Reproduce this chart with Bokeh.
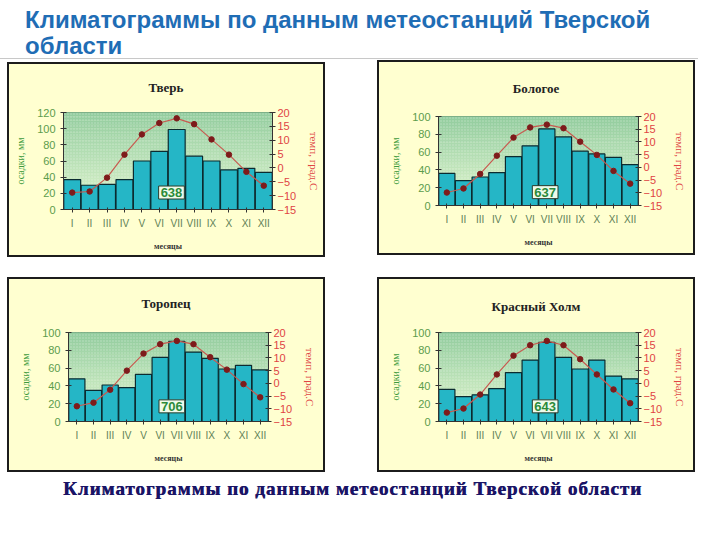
from bokeh.plotting import figure
from bokeh.models import (Range1d, LinearAxis, FactorRange, Label, BoxAnnotation,
                          Div, Spacer, FixedTicker, ColumnDataSource)
from bokeh.layouts import column, row
from bokeh.embed import file_html
from bokeh.resources import INLINE

# ---------------- data ----------------
months = ["I", "II", "III", "IV", "V", "VI", "VII", "VIII", "IX", "X", "XI", "XII"]

station_names = ["Тверь", "Бологое", "Торопец", "Красный Холм"]

tver_precip = [37, 30, 31, 37, 60, 72, 99, 66, 60, 49, 51, 46]
tver_temp = [-8.9, -8.5, -3.5, 4.8, 12.1, 16.2, 17.9, 15.8, 10.3, 4.8, -1.4, -6.4]

bologoe_precip = [36, 28, 32, 37, 55, 67, 86, 77, 61, 58, 54, 46]
bologoe_temp = [-9.9, -8.3, -2.6, 4.6, 11.7, 15.7, 16.8, 15.4, 10.1, 4.9, -1.4, -6.4]

toropets_precip = [48, 35, 41, 38, 53, 72, 90, 78, 71, 59, 63, 58]
toropets_temp = [-9.0, -7.6, -2.5, 5.0, 11.7, 15.4, 16.7, 15.4, 10.3, 5.4, -0.3, -5.5]

kholm_precip = [36, 28, 30, 37, 55, 69, 89, 72, 59, 69, 51, 48]
kholm_temp = [-11.5, -9.9, -4.4, 3.5, 10.9, 15.0, 16.7, 15.0, 9.5, 3.5, -2.4, -7.8]

precip_max = [120, 100, 100, 100]
precip_ticks_step = 20
temp_ticks = [-15, -10, -5, 0, 5, 10, 15, 20]

# ---------------- styles ----------------
PANEL_BG = "#ffffd0"
BAR = "#25b6c6"
BAR_LINE = "#0b2b30"
TEMP_LINE = "#c85a50"
TEMP_DOT = "#7e1b1b"
GREEN_TXT = "#5c9c4c"
RED_TXT = "#e04444"
TOP_COL = (146, 204, 158)
BOT_COL = (226, 246, 208)
W, H = 314, 191   # inner size; a 2px frame makes the panel 318 x 195
TH = 36           # height of the station-name strip


def band_color(f):
    c = [int(round(BOT_COL[k] + (TOP_COL[k] - BOT_COL[k]) * f)) for k in range(3)]
    return "#%02x%02x%02x" % tuple(c)


def make_panel(name, precip, temp, pmax, borders, label_pos, title_pad, top_margin=0):
    bl, br, bt, bb = borders
    src = ColumnDataSource(dict(month=months, precip=precip, temp=temp))
    p = figure(width=W, height=H - TH, x_range=FactorRange(factors=months),
               y_range=Range1d(0, pmax), output_backend="svg", toolbar_location=None,
               title_location=None,
               min_border_left=bl, min_border_right=br, min_border_top=bt,
               min_border_bottom=bb)
    p.extra_y_ranges = {"temp": Range1d(temp_ticks[0], temp_ticks[-1])}
    p.border_fill_color = PANEL_BG
    p.background_fill_color = band_color(0)
    p.outline_line_color = "#6f9f7a"
    p.outline_line_width = 1
    p.xgrid.visible = False
    p.ygrid.visible = False

    # gradient background of plot area
    n = 24
    for i in range(n):
        p.add_layout(BoxAnnotation(bottom=pmax * i / n, top=pmax * (i + 1) / n + 0.3,
                                   fill_color=band_color((i + 0.5) / n), fill_alpha=1,
                                   line_color=None, level="underlay"))
    p.add_layout(BoxAnnotation(fill_alpha=0, line_color=None, hatch_pattern="dot",
                               hatch_color="white", hatch_alpha=0.35, hatch_scale=3,
                               level="underlay"))

    p.vbar(x="month", top="precip", width=0.97, source=src, fill_color=BAR,
           line_color=BAR_LINE, line_width=1.2)
    p.line(x="month", y="temp", source=src, y_range_name="temp",
           line_color=TEMP_LINE, line_width=1.2)
    p.scatter(x="month", y="temp", source=src, y_range_name="temp", marker="circle",
              size=5.5, fill_color=TEMP_DOT, line_color=TEMP_DOT)

    # left axis
    ya = p.yaxis[0]
    ya.ticker = FixedTicker(ticks=list(range(0, pmax + 1, precip_ticks_step)))
    ya.axis_label = "осадки, мм"
    ya.axis_label_text_font = "Liberation Serif"
    ya.axis_label_text_font_size = "10px"
    ya.axis_label_text_font_style = "normal"
    ya.axis_label_text_color = "#3c9a3c"
    ya.axis_label_standoff = 8
    ya.major_label_text_font = "Liberation Sans"
    ya.major_label_text_font_size = "11px"
    ya.major_label_text_color = GREEN_TXT
    ya.major_label_standoff = 5
    ya.major_tick_in = 3
    ya.major_tick_out = 3
    ya.minor_tick_in = 0
    ya.minor_tick_out = 0
    ya.axis_line_color = "#333333"
    ya.major_tick_line_color = "#333333"

    # right axis
    ra = LinearAxis(y_range_name="temp", ticker=FixedTicker(ticks=temp_ticks),
                    axis_label="темп, град.С")
    ra.axis_label_text_font = "Liberation Serif"
    ra.axis_label_text_font_size = "11px"
    ra.axis_label_text_font_style = "normal"
    ra.axis_label_text_color = RED_TXT
    ra.axis_label_standoff = 9
    ra.major_label_text_font = "Liberation Sans"
    ra.major_label_text_font_size = "11px"
    ra.major_label_text_color = RED_TXT
    ra.major_label_standoff = 2
    ra.major_tick_in = 3
    ra.major_tick_out = 3
    ra.minor_tick_in = 0
    ra.minor_tick_out = 0
    ra.axis_line_color = "#333333"
    ra.major_tick_line_color = "#333333"
    p.add_layout(ra, "right")

    # bottom axis
    xa = p.xaxis[0]
    xa.axis_label = "месяцы"
    xa.axis_label_text_font = "Liberation Serif"
    xa.axis_label_text_font_size = "8px"
    xa.axis_label_text_font_style = "bold"
    xa.axis_label_text_color = "#333333"
    xa.axis_label_standoff = 10
    xa.major_label_text_font = "Liberation Sans"
    xa.major_label_text_font_size = "10px"
    xa.major_label_text_color = "#5e7f56"
    xa.major_label_standoff = 5
    xa.major_tick_in = 2
    xa.major_tick_out = 3
    xa.axis_line_color = "#333333"
    xa.major_tick_line_color = "#333333"

    # annual total
    lx, ly = label_pos
    p.add_layout(Label(x=lx, y=ly, text=str(sum(precip)), text_align="center",
                       text_baseline="middle", text_font="Liberation Sans",
                       text_font_size="13px", text_font_style="bold",
                       text_color="#2b8a3a", background_fill_color="#eefbea",
                       border_line_color="#2a3a2a", border_line_width=1, padding=2))

    head = Div(text=('<div style="width:%dpx; text-align:center; padding-top:%dpx;'
                     'font-family:\'Liberation Serif\'; font-weight:bold; font-size:13px;'
                     'line-height:16px; color:#222222;">%s</div>') % (W, title_pad, name),
               width=W, height=TH, margin=0, styles={"background": PANEL_BG})
    return column(head, p, spacing=0, margin=(top_margin, 0, 0, 0),
                  styles={"border": "2px solid #1c1c1c", "background": PANEL_BG})


p1 = make_panel(station_names[0], tver_precip, tver_temp, precip_max[0],
                (54, 43, 48 - TH, 46), (6.2, 21), 16, top_margin=2)
p2 = make_panel(station_names[1], bologoe_precip, bologoe_temp, precip_max[1],
                (59, 55, 54 - TH, 48), (6.4, 15), 19)
p3 = make_panel(station_names[2], toropets_precip, toropets_temp, precip_max[2],
                (59, 55, 53 - TH, 49), (6.2, 17), 17)
p4 = make_panel(station_names[3], kholm_precip, kholm_temp, precip_max[3],
                (59, 55, 53 - TH, 49), (6.4, 17), 20)

title = Div(text=('<div style="padding:7px 0 0 25px; font-family:\'Liberation Sans\';'
                  'font-weight:bold; font-size:24px; line-height:26px; color:#1f6db5;">'
                  'Климатограммы по данным метеостанций Тверской<br>области</div>'),
            width=698, height=59, margin=0,
            styles={"border-bottom": "1px solid #c8c8c8"})

caption = Div(text=('<div style="width:705px; text-align:center; padding-top:3px;'
                    'font-family:\'Liberation Serif\'; font-weight:bold; font-size:19px;'
                    'letter-spacing:1px; color:#1a1466; text-shadow:0.6px 0 0 #1a1466;">'
                    'Климатограммы по данным метеостанций Тверской области</div>'),
              width=705, height=30, margin=0)

layout = column(
    title,
    Spacer(height=1),
    row(Spacer(width=7), p1, Spacer(width=52), p2),
    Spacer(height=20),
    row(Spacer(width=7), p3, Spacer(width=52), p4),
    caption,
    styles={"background": "white"},
)

open("out.html", "w").write(file_html(layout, INLINE))
